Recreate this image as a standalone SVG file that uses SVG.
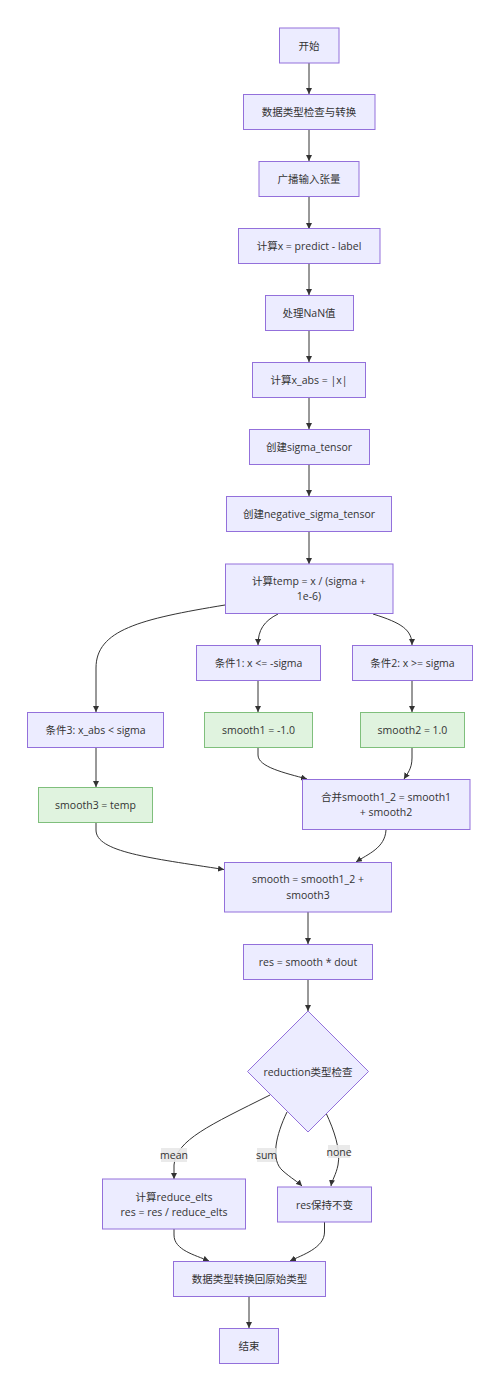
<svg xmlns="http://www.w3.org/2000/svg" width="500" height="1391" viewBox="0 0 500 1391">
<style>
.n{fill:#ECECFF;stroke:#9370DB;stroke-width:1}
.g{fill:#E0F3DF;stroke:#7FBF7C;stroke-width:1}
.t{font-family:"Open Sans","Noto Sans CJK SC",sans-serif;font-size:10.5px;fill:#333;text-anchor:middle;dominant-baseline:central}
.e{fill:none;stroke:#333;stroke-width:1}
.lb{fill:#e8e8e8;opacity:0.9}
</style>
<defs>
<marker id="a" viewBox="0 0 10 10" refX="10" refY="5" markerWidth="6" markerHeight="6" orient="auto" markerUnits="userSpaceOnUse">
<path d="M0,0 L10,5 L0,10 z" fill="#333"/>
</marker>
</defs>
<rect width="500" height="1391" fill="#fff"/>
<g id="edges">
<path class="e" marker-end="url(#a)" d="M309,63 L309,94"/>
<path class="e" marker-end="url(#a)" d="M309,129 L309,161"/>
<path class="e" marker-end="url(#a)" d="M309,196 L309,229"/>
<path class="e" marker-end="url(#a)" d="M309,263 L309,295"/>
<path class="e" marker-end="url(#a)" d="M309,330 L309,362"/>
<path class="e" marker-end="url(#a)" d="M309,397 L309,429"/>
<path class="e" marker-end="url(#a)" d="M309,464 L309,496"/>
<path class="e" marker-end="url(#a)" d="M309,531 L309,564"/>
<path class="e" marker-end="url(#a)" d="M225,605 C140,619 96,630 96,668 L96,712"/>
<path class="e" marker-end="url(#a)" d="M278,614 C264,621 258,630 258,645"/>
<path class="e" marker-end="url(#a)" d="M373,614 C402,623 412,630 412,645"/>
<path class="e" marker-end="url(#a)" d="M258,680 L258,712"/>
<path class="e" marker-end="url(#a)" d="M412,680 L412,712"/>
<path class="e" marker-end="url(#a)" d="M96,747 L96,787"/>
<path class="e" marker-end="url(#a)" d="M258,747 L258,755 C258,767 285,773 307,779"/>
<path class="e" marker-end="url(#a)" d="M412,747 L412,758 C412,769 407,774 404,779"/>
<path class="e" marker-end="url(#a)" d="M96,822 L96,830 C96,852 150,858 224,869.5"/>
<path class="e" marker-end="url(#a)" d="M386,830 C385,848 368,854 356,862"/>
<path class="e" marker-end="url(#a)" d="M308,912 L308,944"/>
<path class="e" marker-end="url(#a)" d="M308,979 L308,1011"/>
<path class="e" marker-end="url(#a)" d="M270,1095 C210,1125 176,1140 174,1165 L174,1179"/>
<path class="e" marker-end="url(#a)" d="M287,1112 C276,1135 270,1160 283,1171 C291,1178 298,1182 302,1186"/>
<path class="e" marker-end="url(#a)" d="M326,1113 C334,1130 341,1150 338,1165 C336,1175 332,1180 331,1186"/>
<path class="e" marker-end="url(#a)" d="M174,1229 L174,1235 C174,1250 195,1255 209,1261"/>
<path class="e" marker-end="url(#a)" d="M324.5,1222 L324.5,1232 C324.5,1248 302,1255 290,1261"/>
<path class="e" marker-end="url(#a)" d="M249,1296 L249,1328"/>
<g id="edge-labels">
<rect class="lb" x="161" y="1148" width="26" height="14"/>
<text class="t" x="174" y="1155">mean</text>
<rect class="lb" x="257" y="1148" width="19" height="14"/>
<text class="t" x="266.5" y="1155">sum</text>
<rect class="lb" x="328" y="1145" width="22" height="13"/>
<text class="t" x="339" y="1151.5">none</text>
</g>
</g>
<g id="start"><rect class="n" x="279.5" y="28" width="59.5" height="35"/><text class="t" x="309" y="45.5">开始</text></g>
<g id="check"><rect class="n" x="243.5" y="94.5" width="131.5" height="35"/><text class="t" x="309" y="112">数据类型检查与转换</text></g>
<g id="broadcast"><rect class="n" x="259" y="161.5" width="100" height="35"/><text class="t" x="309" y="179">广播输入张量</text></g>
<g id="calcx"><rect class="n" x="238.5" y="228.5" width="141.5" height="35"/><text class="t" x="309" y="246">计算x = predict - label</text></g>
<g id="nan"><rect class="n" x="265.5" y="295.5" width="88" height="35"/><text class="t" x="309" y="313">处理NaN值</text></g>
<g id="xabs"><rect class="n" x="252.5" y="362.5" width="113" height="35"/><text class="t" x="309" y="380">计算x_abs = |x|</text></g>
<g id="sigma"><rect class="n" x="249.5" y="429.5" width="120" height="35"/><text class="t" x="309" y="447">创建sigma_tensor</text></g>
<g id="negsigma"><rect class="n" x="226.5" y="496.5" width="165" height="35"/><text class="t" x="309" y="514">创建negative_sigma_tensor</text></g>
<g id="temp"><rect class="n" x="225.5" y="564" width="167.5" height="49.5"/><text class="t" x="309" y="581">计算temp = x / (sigma +</text><text class="t" x="309" y="596">1e-6)</text></g>
<g id="cond1"><rect class="n" x="196.5" y="645.5" width="124" height="35"/><text class="t" x="258.5" y="663">条件1: x &lt;= -sigma</text></g>
<g id="cond2"><rect class="n" x="352.5" y="645.5" width="120" height="35"/><text class="t" x="412.5" y="663">条件2: x &gt;= sigma</text></g>
<g id="cond3"><rect class="n" x="27.5" y="712.5" width="136" height="35"/><text class="t" x="95.5" y="730">条件3: x_abs &lt; sigma</text></g>
<g id="smooth1"><rect class="g" x="204.5" y="712.5" width="108" height="35"/><text class="t" x="258.5" y="730">smooth1 = -1.0</text></g>
<g id="smooth2"><rect class="g" x="360.5" y="712.5" width="104" height="35"/><text class="t" x="412.5" y="730">smooth2 = 1.0</text></g>
<g id="smooth3"><rect class="g" x="38.5" y="787.5" width="114" height="35"/><text class="t" x="95.5" y="805">smooth3 = temp</text></g>
<g id="merge"><rect class="n" x="302.5" y="779.5" width="167.5" height="50"/><text class="t" x="386" y="797">合并smooth1_2 = smooth1</text><text class="t" x="386" y="812">+ smooth2</text></g>
<g id="smooth"><rect class="n" x="224.5" y="862.5" width="167" height="49.5"/><text class="t" x="308" y="879">smooth = smooth1_2 +</text><text class="t" x="308" y="895">smooth3</text></g>
<g id="res"><rect class="n" x="243.5" y="944.5" width="129" height="35"/><text class="t" x="308" y="962">res = smooth * dout</text></g>
<g id="reduction"><path class="n" d="M308,1011 L368.5,1071.5 L308,1132 L247.5,1071.5 Z"/><text class="t" x="308" y="1071.5">reduction类型检查</text></g>
<g id="mean"><rect class="n" x="102.5" y="1179" width="143" height="50"/><text class="t" x="174" y="1196.5">计算reduce_elts</text><text class="t" x="174" y="1211.5">res = res / reduce_elts</text></g>
<g id="keep"><rect class="n" x="277.5" y="1187" width="94" height="35"/><text class="t" x="324.5" y="1204.5">res保持不变</text></g>
<g id="castback"><rect class="n" x="173.5" y="1261.5" width="152" height="35"/><text class="t" x="249.5" y="1279">数据类型转换回原始类型</text></g>
<g id="end"><rect class="n" x="219.5" y="1328.5" width="59" height="35"/><text class="t" x="249" y="1346">结束</text></g>
</svg>
